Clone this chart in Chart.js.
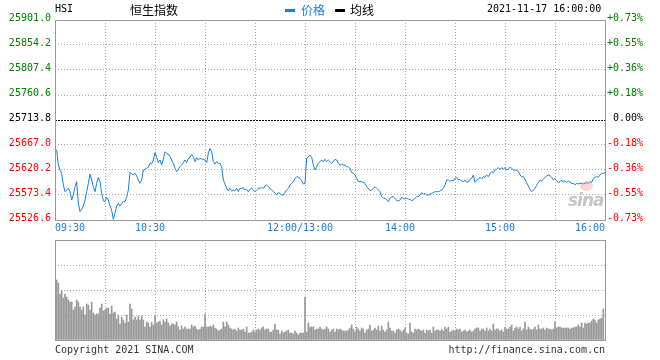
<!DOCTYPE html>
<html><head><meta charset="utf-8">
<script src="https://cdn.jsdelivr.net/npm/chart.js@4.4.1/dist/chart.umd.min.js"></script>
<style>
html,body{margin:0;padding:0;background:#fff;}
#wrap{position:relative;width:660px;height:360px;overflow:hidden;background:#fff;}
canvas{position:absolute;left:0;}
.t{position:absolute;white-space:pre;font-family:"DejaVu Sans Mono","Liberation Mono",monospace;font-size:10px;line-height:10px;color:#000;}
.c{position:absolute;white-space:pre;font-family:"Noto Sans CJK SC",sans-serif;font-size:12px;line-height:12px;color:#000;}
.bar{position:absolute;width:10px;height:3px;}
</style></head><body>
<div id="wrap">
<canvas id="pc" width="660" height="240" style="top:0"></canvas>
<canvas id="vc" width="660" height="108" style="top:236px"></canvas>
<div class="t" style="left:55px;top:4px">HSI</div>
<div class="c" style="left:130px;top:4px">恒生指数</div>
<div class="bar" style="left:285px;top:9px;background:#1a80d6"></div>
<div class="c" style="left:301px;top:4px;color:#1a80d6">价格</div>
<div class="bar" style="left:335px;top:9px;background:#000"></div>
<div class="c" style="left:350px;top:4px">均线</div>
<div class="t" style="left:487px;top:4px">2021-11-17 16:00:00</div>
<div style="position:absolute;left:568px;top:190px;font:italic bold 17px 'DejaVu Sans',sans-serif;color:rgba(150,150,150,0.55);letter-spacing:-1px">sina</div>
<div style="position:absolute;left:580px;top:181px;width:13px;height:10px;border-radius:50%;background:rgba(240,140,140,0.35)"></div>
<div class="t" style="left:55px;top:345px;color:#333">Copyright 2021 SINA.COM</div>
<div class="t" style="right:55px;top:345px;color:#333">http://finance.sina.com.cn</div>
</div>
<script>
// ---- data ----
const timeLabels = ['09:30', '10:30', '12:00/13:00', '14:00', '15:00', '16:00'];
const labelMinutes = [0, 57, 147, 207, 267, 330];
const gridMinutes = [0, 30, 60, 90, 120, 150, 180, 210, 240, 270, 300, 330];
const priceTicks = [25526.6, 25573.4, 25620.2, 25667.0, 25713.8, 25760.6, 25807.4, 25854.2, 25901.0];
const pctLabels = ['-0.73%', '-0.55%', '-0.36%', '-0.18%', ' 0.00%', '+0.18%', '+0.36%', '+0.55%', '+0.73%'];
const volTicks = [0, 25, 50, 75, 100];

const price = [
25657.6,25657.6,25629.6,25620.2,25613.9,25592.1,25579.6,25582.8,25585.9,25579.6,
25564.0,25573.4,25589.0,25598.4,25557.8,25542.2,25546.6,25552.8,25564.0,25579.6,
25595.2,25612.7,25601.5,25589.0,25579.6,25595.2,25606.5,25598.4,25576.5,25562.8,
25560.9,25569.0,25564.0,25552.8,25545.3,25527.8,25539.1,25552.8,25557.8,25552.8,
25557.8,25560.9,25560.9,25569.0,25582.8,25615.8,25612.7,25610.8,25614.0,25609.0,
25601.5,25595.2,25601.5,25620.2,25621.4,25623.3,25625.2,25632.7,25631.4,25638.9,
25652.6,25643.9,25633.9,25638.9,25629.6,25640.2,25654.5,25651.4,25650.1,25645.2,
25638.9,25632.7,25623.3,25617.1,25621.4,25626.4,25629.6,25633.9,25638.9,25633.9,
25642.0,25643.9,25649.5,25645.2,25635.8,25643.3,25638.9,25642.0,25640.8,25640.2,
25638.9,25633.9,25651.4,25660.8,25654.5,25635.8,25631.4,25635.8,25632.7,25632.7,
25626.4,25601.5,25594.0,25585.9,25581.5,25585.9,25581.5,25582.8,25581.5,25585.9,
25579.6,25585.9,25585.9,25587.1,25582.8,25584.0,25579.6,25584.0,25585.9,25582.8,
25579.6,25582.8,25585.9,25585.9,25587.1,25585.9,25590.2,25592.1,25589.0,25585.9,
25582.8,25579.6,25577.8,25573.4,25577.8,25576.5,25573.4,25573.4,25577.8,25582.8,
25585.9,25592.1,25595.2,25598.4,25604.6,25607.7,25606.5,25604.6,25600.2,25594.0,
25595.2,25642.0,25645.2,25648.3,25643.9,25629.6,25620.2,25626.4,25632.7,25635.8,
25638.9,25635.8,25640.2,25635.8,25638.9,25635.8,25632.7,25635.8,25640.2,25638.9,
25632.7,25629.6,25630.8,25629.6,25629.6,25626.4,25626.4,25623.3,25615.2,25614.0,
25610.8,25604.6,25598.4,25598.4,25598.4,25597.1,25595.2,25589.0,25585.9,25581.5,
25582.8,25585.9,25589.0,25585.9,25582.8,25579.6,25570.3,25567.2,25567.2,25564.0,
25560.9,25567.2,25570.3,25570.3,25567.2,25562.8,25562.2,25564.0,25569.0,25567.2,
25565.9,25567.2,25565.9,25565.3,25562.8,25564.0,25567.2,25570.3,25570.3,25573.4,
25577.8,25575.3,25576.5,25573.4,25573.4,25575.3,25576.5,25577.8,25579.6,25579.6,
25579.6,25580.9,25582.8,25585.9,25592.1,25601.5,25601.5,25598.4,25601.5,25599.6,
25604.6,25606.5,25601.5,25602.7,25599.6,25598.4,25601.5,25597.1,25598.4,25602.7,
25604.6,25610.8,25597.1,25601.5,25602.7,25606.5,25603.4,25607.7,25606.5,25610.8,
25607.7,25614.0,25617.1,25615.2,25620.2,25621.4,25624.6,25621.4,25624.6,25622.1,
25624.6,25620.2,25622.1,25625.2,25623.3,25620.2,25620.2,25619.0,25617.1,25610.8,
25607.7,25607.7,25602.7,25596.5,25590.2,25584.0,25579.6,25582.8,25585.9,25592.1,
25596.5,25601.5,25599.6,25602.7,25606.5,25609.0,25610.8,25609.6,25606.5,25601.5,
25604.6,25600.2,25596.5,25598.4,25601.5,25597.1,25600.2,25597.1,25599.6,25597.7,
25595.2,25595.2,25592.7,25595.2,25594.0,25595.2,25595.2,25594.0,25595.2,25596.5,
25595.2,25598.4,25596.5,25604.6,25606.5,25607.7,25606.5,25610.8,25614.0,25614.0,
25615.2
];

const volume = [
0,
60,57,46,49,42,46,43,40,38,38,
30,33,40,38,33,30,33,25,36,35,
30,38,27,25,26,26,32,36,29,30,
32,32,26,34,27,28,21,25,16,23,
20,17,25,18,36,31,20,23,20,24,
20,24,20,13,18,17,13,18,15,25,
17,18,19,15,20,18,21,17,14,16,
16,15,18,13,10,14,11,13,11,11,
11,15,13,14,11,10,11,13,13,26,
13,13,14,13,15,12,11,9,10,11,
18,13,18,15,12,11,10,11,9,12,
10,10,11,8,13,7,7,8,10,8,
10,11,10,12,13,10,11,11,8,8,
10,16,10,10,6,9,7,8,9,10,
7,7,6,9,7,5,7,7,7,43,
8,17,13,13,13,10,11,11,13,11,10,11,13,11,
8,10,11,8,11,10,11,10,9,9,
9,10,12,15,11,8,13,11,9,12,
11,7,10,11,15,9,10,12,10,14,
9,14,10,8,10,18,12,9,9,7,
10,11,10,8,10,12,7,6,17,8,
7,11,10,11,10,9,10,7,10,9,
10,7,13,9,10,10,9,11,9,13,
11,13,8,9,10,9,11,10,11,8,
9,10,8,9,10,8,9,11,12,12,
9,11,11,9,12,9,11,9,16,10,
11,11,9,10,8,13,11,11,13,15,
9,12,13,11,13,9,11,18,10,13,
11,10,11,13,10,15,11,11,12,10,
12,11,11,10,11,18,12,13,13,12,
12,12,12,12,11,12,12,13,13,15,
13,17,12,17,16,17,17,19,21,20,
17,20,21,22,31,
0
];

// ---- styling ----
const MONO = '"DejaVu Sans Mono", "Liberation Mono", monospace';
const BLUE = '#1a80d6';
const GRID = '#aaa';
const FRAME = '#999';

const framePlugin = {
  id: 'frame',
  afterDatasetsDraw(chart) {
    const { ctx, chartArea: a } = chart;
    ctx.save();
    ctx.strokeStyle = FRAME;
    ctx.lineWidth = 1;
    ctx.setLineDash([]);
    ctx.strokeRect(Math.round(a.left) + 0.5, Math.round(a.top) + 0.5,
      Math.round(a.right - a.left), Math.round(a.bottom - a.top));
    ctx.restore();
  }
};

const setTicks = (arr) => (scale) => { scale.ticks = arr.map(v => ({ value: v })); };
const fixW = (w) => (scale) => { scale.width = w; };
const fixH = (h) => (scale) => { scale.height = h; };

const xGrid = {
  type: 'linear', min: 0, max: 330, position: 'bottom', offset: false,
  afterBuildTicks: setTicks(gridMinutes),
  afterFit: fixH(0),
  ticks: { display: false },
  grid: { color: GRID, lineWidth: 1, drawTicks: false, offset: false },
  border: { display: false, dash: [1, 2] }
};

new Chart(document.getElementById('pc'), {
  type: 'line',
  data: {
    datasets: [{
      data: price.map((v, i) => ({ x: i, y: v })),
      borderColor: BLUE, borderWidth: 1, pointRadius: 0, tension: 0, fill: false
    }]
  },
  options: {
    responsive: false, animation: false, devicePixelRatio: 1,
    layout: { padding: { top: 20, bottom: 0, left: 0, right: 0 } },
    plugins: { legend: { display: false }, tooltip: { enabled: false } },
    scales: {
      x: xGrid,
      xl: {
        type: 'linear', min: 0, max: 330, position: 'bottom',
        afterBuildTicks: setTicks(labelMinutes),
        afterFit: fixH(20),
        grid: { display: false, drawTicks: false },
        border: { display: false },
        ticks: {
          autoSkip: false, maxRotation: 0, minRotation: 0, align: 'inner', padding: 2,
          color: BLUE, font: { family: MONO, size: 10 },
          callback: (v, i) => timeLabels[i]
        }
      },
      y: {
        type: 'linear', position: 'left', min: priceTicks[0], max: priceTicks[priceTicks.length - 1],
        afterBuildTicks: setTicks(priceTicks),
        afterFit: fixW(55),
        grid: { drawTicks: false, lineWidth: 1, color: (c) => c.index === 4 ? '#000' : GRID },
        border: { display: false, dash: (c) => c.index === 4 ? [2, 1] : [1, 2] },
        ticks: {
          padding: 4, labelOffset: -2, font: { family: MONO, size: 10 },
          color: (c) => c.index > 4 ? '#008000' : (c.index === 4 ? '#000' : '#ff0000'),
          callback: (v, i) => priceTicks[i].toFixed(1)
        }
      },
      y2: {
        type: 'linear', position: 'right', min: priceTicks[0], max: priceTicks[priceTicks.length - 1],
        afterBuildTicks: setTicks(priceTicks),
        afterFit: fixW(55),
        grid: { display: false, drawTicks: false },
        border: { display: false },
        ticks: {
          padding: 2, labelOffset: -2, font: { family: MONO, size: 10 },
          color: (c) => c.index > 4 ? '#008000' : (c.index === 4 ? '#000' : '#ff0000'),
          callback: (v, i) => pctLabels[i]
        }
      }
    }
  },
  plugins: [framePlugin]
});

new Chart(document.getElementById('vc'), {
  type: 'bar',
  data: {
    datasets: [{
      data: volume.map((v, i) => ({ x: i, y: v })),
      backgroundColor: '#999', borderWidth: 0, barThickness: 1
    }]
  },
  options: {
    responsive: false, animation: false, devicePixelRatio: 1,
    layout: { padding: { top: 4, bottom: 4, left: 0, right: 0 } },
    plugins: { legend: { display: false }, tooltip: { enabled: false } },
    scales: {
      x: xGrid,
      y: {
        type: 'linear', position: 'left', min: 0, max: 100,
        afterBuildTicks: setTicks(volTicks),
        afterFit: fixW(55),
        grid: { drawTicks: false, color: GRID, lineWidth: 1 },
        border: { display: false, dash: [1, 2] },
        ticks: { display: false }
      },
      y2: {
        type: 'linear', position: 'right', min: 0, max: 100,
        afterFit: fixW(55),
        grid: { display: false, drawTicks: false },
        border: { display: false },
        ticks: { display: false }
      }
    }
  },
  plugins: [framePlugin]
});
</script>
</body></html>
